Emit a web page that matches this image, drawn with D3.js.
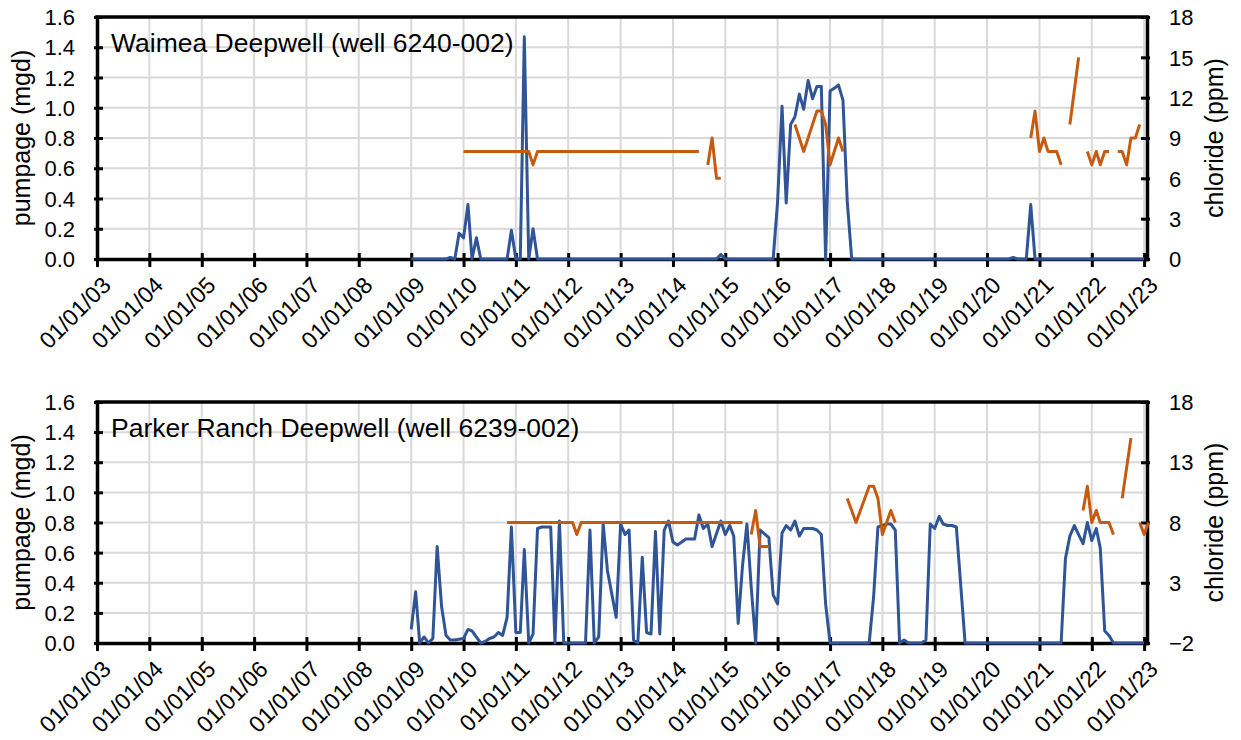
<!DOCTYPE html>
<html>
<head>
<meta charset="utf-8">
<script src="https://cdn.jsdelivr.net/npm/d3@7"></script>
<style>
  body { margin: 0; background: #fff; }
  svg { display: block; font-family: "Liberation Sans", Arial, sans-serif; }
</style>
</head>
<body>
<svg id="chart" width="1241" height="740"></svg>
<script>
/** tick labels */
const xTickLabels = [
  "01/01/03", "01/01/04", "01/01/05", "01/01/06", "01/01/07", "01/01/08", "01/01/09",
  "01/01/10", "01/01/11", "01/01/12", "01/01/13", "01/01/14", "01/01/15", "01/01/16",
  "01/01/17", "01/01/18", "01/01/19", "01/01/20", "01/01/21", "01/01/22", "01/01/23",
];
const pumpTicks = [0, 0.2, 0.4, 0.6, 0.8, 1.0, 1.2, 1.4, 1.6];
const waimeaClTicks = [0, 3, 6, 9, 12, 15, 18];
const parkerClTicks = [-2, 3, 8, 13, 18];

/** Waimea Deepwell, monthly pumpage (mgd) */
const waimeaPumpage = [
  ["2009-01", 0], ["2009-09", 0], ["2009-10", 0.01], ["2009-11", 0], ["2009-12", 0.17],
  ["2010-01", 0.14], ["2010-02", 0.36], ["2010-03", 0], ["2010-04", 0.14], ["2010-05", 0],
  ["2010-11", 0], ["2010-12", 0.19], ["2011-01", 0], ["2011-02", 0], ["2011-03", 1.47],
  ["2011-04", 0], ["2011-05", 0.2], ["2011-06", 0], ["2014-11", 0], ["2014-12", 0.03],
  ["2015-01", 0], ["2015-12", 0], ["2016-01", 0.38], ["2016-02", 1.01], ["2016-03", 0.37],
  ["2016-04", 0.89], ["2016-05", 0.94], ["2016-06", 1.09], ["2016-07", 0.99], ["2016-08", 1.18],
  ["2016-09", 1.06], ["2016-10", 1.14], ["2016-11", 1.14], ["2016-12", 0], ["2017-01", 1.11],
  ["2017-02", 1.13], ["2017-03", 1.15], ["2017-04", 1.05], ["2017-05", 0.38], ["2017-06", 0],
  ["2020-06", 0], ["2020-07", 0.01], ["2020-08", 0], ["2020-10", 0], ["2020-11", 0.36],
  ["2020-12", 0], ["2023-01", 0],
];

/** Waimea Deepwell, chloride (ppm), null = no sample */
const waimeaChloride = [
  ["2010-01", 8], ["2011-04", 8], ["2011-05", 7], ["2011-06", 8], ["2014-07", 8],
  ["2014-08", null],
  ["2014-09", 7], ["2014-10", 9], ["2014-11", 6], ["2014-12", 6],
  ["2015-01", null],
  ["2016-05", 10], ["2016-07", 8], ["2016-10", 11], ["2016-11", 11], ["2016-12", 10],
  ["2017-01", 7], ["2017-03", 9], ["2017-04", 8],
  ["2017-05", null],
  ["2020-11", 9], ["2020-12", 11], ["2021-01", 8], ["2021-02", 9], ["2021-03", 8],
  ["2021-05", 8], ["2021-06", 7],
  ["2021-07", null],
  ["2021-08", 10], ["2021-10", 15],
  ["2021-11", null],
  ["2021-12", 8], ["2022-01", 7], ["2022-02", 8], ["2022-03", 7], ["2022-04", 8], ["2022-05", 8],
  ["2022-06", null],
  ["2022-07", 8], ["2022-08", 8], ["2022-09", 7], ["2022-10", 9], ["2022-11", 9], ["2022-12", 10],
];

/** Parker Ranch Deepwell, monthly pumpage (mgd) */
const parkerPumpage = [
  ["2009-01", 0.09], ["2009-02", 0.34], ["2009-03", 0], ["2009-04", 0.04], ["2009-05", 0],
  ["2009-06", 0.03], ["2009-07", 0.64], ["2009-08", 0.24], ["2009-09", 0.05], ["2009-10", 0.02],
  ["2009-11", 0.02], ["2010-01", 0.03], ["2010-02", 0.09], ["2010-03", 0.08], ["2010-05", 0],
  ["2010-06", 0.01], ["2010-07", 0.03], ["2010-08", 0.04], ["2010-09", 0.07], ["2010-10", 0.05],
  ["2010-11", 0.17], ["2010-12", 0.77], ["2011-01", 0.07], ["2011-02", 0.07], ["2011-03", 0.62],
  ["2011-04", 0], ["2011-05", 0.06], ["2011-06", 0.76], ["2011-07", 0.77], ["2011-08", 0.77],
  ["2011-09", 0.77], ["2011-10", 0], ["2011-11", 0.81], ["2011-12", 0], ["2012-05", 0],
  ["2012-06", 0.75], ["2012-07", 0], ["2012-08", 0.04], ["2012-09", 0.79], ["2012-10", 0.48],
  ["2012-12", 0.17], ["2013-01", 0.79], ["2013-02", 0.72], ["2013-03", 0.75], ["2013-04", 0.02],
  ["2013-05", 0], ["2013-06", 0.57], ["2013-07", 0.07], ["2013-08", 0.06], ["2013-09", 0.74],
  ["2013-10", 0.06], ["2013-11", 0.75], ["2013-12", 0.81], ["2014-01", 0.67], ["2014-02", 0.65],
  ["2014-04", 0.69], ["2014-06", 0.69], ["2014-07", 0.85], ["2014-08", 0.76], ["2014-09", 0.79],
  ["2014-10", 0.64], ["2014-12", 0.81], ["2015-01", 0.72], ["2015-02", 0.78], ["2015-03", 0.71],
  ["2015-04", 0.13], ["2015-05", 0.51], ["2015-06", 0.79], ["2015-07", 0.37], ["2015-08", 0],
  ["2015-09", 0.75], ["2015-11", 0.7], ["2015-12", 0.32], ["2016-01", 0.26], ["2016-02", 0.73],
  ["2016-03", 0.78], ["2016-04", 0.75], ["2016-05", 0.81], ["2016-06", 0.71], ["2016-07", 0.76],
  ["2016-09", 0.76], ["2016-10", 0.75], ["2016-11", 0.72], ["2016-12", 0.26], ["2017-01", 0],
  ["2017-10", 0], ["2017-11", 0.31], ["2017-12", 0.77], ["2018-01", 0.78], ["2018-02", 0.79],
  ["2018-03", 0.79], ["2018-04", 0.75], ["2018-05", 0], ["2018-06", 0.02], ["2018-07", 0],
  ["2018-10", 0], ["2018-11", 0.02], ["2018-12", 0.79], ["2019-01", 0.76], ["2019-02", 0.84],
  ["2019-03", 0.79], ["2019-04", 0.78], ["2019-05", 0.78], ["2019-06", 0.77], ["2019-08", 0],
  ["2021-06", 0], ["2021-07", 0.56], ["2021-08", 0.71], ["2021-09", 0.78], ["2021-10", 0.72],
  ["2021-11", 0.66], ["2021-12", 0.8], ["2022-01", 0.68], ["2022-02", 0.76], ["2022-03", 0.63],
  ["2022-04", 0.08], ["2022-05", 0.05], ["2022-06", 0], ["2023-01", 0],
];

/** Parker Ranch Deepwell, chloride (ppm), null = no sample */
const parkerChloride = [
  ["2010-11", 8], ["2012-02", 8], ["2012-03", 7], ["2012-04", 8], ["2015-05", 8],
  ["2015-06", null],
  ["2015-07", 7], ["2015-08", 9], ["2015-09", 6], ["2015-11", 6],
  ["2015-12", null],
  ["2017-05", 10], ["2017-07", 8], ["2017-10", 11], ["2017-11", 11], ["2017-12", 10],
  ["2018-01", 7], ["2018-03", 9], ["2018-04", 8],
  ["2018-05", null],
  ["2021-11", 9], ["2021-12", 11], ["2022-01", 8], ["2022-02", 9], ["2022-03", 8],
  ["2022-05", 8], ["2022-06", 7],
  ["2022-07", null],
  ["2022-08", 10], ["2022-10", 15],
  ["2022-11", null],
  ["2022-12", 8], ["2023-01", 7], ["2023-02", 8],
];

const blue = "#2f5597";
const orange = "#c55a11";
const gridColor = "#d9d9d9";

const parseMonth = d3.utcParse("%Y-%m");
const parseTick = d3.utcParse("%m/%d/%y");
const xTicks = xTickLabels.map(parseTick);

const svg = d3.select("#chart");
const left = 97;
const right = 1147;

/** shared time axis */
const xScale = d3
  .scaleUtc()
  .domain([parseTick("01/01/03"), d3.utcDay.offset(parseTick("01/01/23"), 20)])
  .range([left, right]);

const drawPanel = ({ title, top, bottom, pumpage, chloride, clDomain, clTicks }) => {
  const g = svg.append("g");

  const yPump = d3.scaleLinear().domain([0, 1.6]).range([bottom, top]);
  const yCl = d3.scaleLinear().domain(clDomain).range([bottom, top]);

  /** gridlines */
  g.append("g")
    .selectAll("line")
    .data(pumpTicks.slice(1))
    .join("line")
    .attr("x1", left)
    .attr("x2", right)
    .attr("y1", (d) => yPump(d))
    .attr("y2", (d) => yPump(d))
    .attr("stroke", gridColor)
    .attr("stroke-width", 2);
  g.append("g")
    .selectAll("line")
    .data(xTicks.slice(1))
    .join("line")
    .attr("x1", (d) => xScale(d))
    .attr("x2", (d) => xScale(d))
    .attr("y1", top)
    .attr("y2", bottom)
    .attr("stroke", gridColor)
    .attr("stroke-width", 2);

  /** axes */
  const xAxis = d3
    .axisBottom(xScale)
    .tickValues(xTicks)
    .tickFormat((d, i) => xTickLabels[i])
    .tickSizeOuter(0)
    .tickSizeInner(8);
  const xg = g.append("g").attr("transform", `translate(0,${bottom})`).call(xAxis);
  xg.selectAll(".tick line").attr("y1", -6).attr("y2", 8);

  const yAxis = d3
    .axisLeft(yPump)
    .tickValues(pumpTicks)
    .tickFormat(d3.format(".1f"))
    .tickSizeOuter(0)
    .tickSizeInner(3);
  const yg = g.append("g").attr("transform", `translate(${left},0)`).call(yAxis);
  yg.selectAll(".tick line").attr("x1", -3).attr("x2", 6);
  yg.selectAll(".tick text").attr("x", -22).attr("dy", "0.35em");

  const clAxis = d3
    .axisRight(yCl)
    .tickValues(clTicks)
    .tickSizeOuter(0)
    .tickSizeInner(3);
  const cg = g.append("g").attr("transform", `translate(${right},0)`).call(clAxis);
  cg.selectAll(".tick line").attr("x1", -6).attr("x2", 3);
  cg.selectAll(".tick text").attr("x", 22).attr("dy", "0.35em");

  for (const a of [xg, yg, cg]) {
    a.attr("font-family", null).attr("font-size", 22).attr("color", "#000");
    a.selectAll("line").attr("stroke-width", 3);
    a.select(".domain").attr("stroke-width", 3.5).attr("stroke-linecap", "square");
  }

  /** rotated date labels */
  xg.attr("font-size", 23);
  xg.selectAll(".tick text")
    .attr("x", 0)
    .attr("y", 0)
    .attr("dy", "0.35em")
    .attr("text-anchor", "end")
    .attr("transform", "translate(9,22) rotate(-45)");

  /** top border */
  g.append("line")
    .attr("x1", left)
    .attr("x2", right)
    .attr("y1", top)
    .attr("y2", top)
    .attr("stroke", "#000")
    .attr("stroke-width", 3.5)
    .attr("stroke-linecap", "square");

  /** pumpage line, drawn over the axis */
  const pumpLine = d3
    .line()
    .x((d) => xScale(parseMonth(d[0])))
    .y((d) => yPump(d[1]));
  g.append("path")
    .attr("d", pumpLine(pumpage))
    .attr("fill", "none")
    .attr("stroke", blue)
    .attr("stroke-width", 3)
    .attr("stroke-linejoin", "round");

  /** chloride line, broken where no sample */
  const clLine = d3
    .line()
    .defined((d) => d[1] !== null)
    .x((d) => xScale(parseMonth(d[0])))
    .y((d) => yCl(d[1]));
  g.append("path")
    .attr("d", clLine(chloride))
    .attr("fill", "none")
    .attr("stroke", orange)
    .attr("stroke-width", 3)
    .attr("stroke-linejoin", "round");

  /** axis titles */
  const mid = (top + bottom) / 2;
  g.append("text")
    .text("pumpage (mgd)")
    .attr("transform", `translate(30,${mid}) rotate(-90)`)
    .attr("text-anchor", "middle")
    .attr("font-size", 25);
  g.append("text")
    .text("chloride (ppm)")
    .attr("transform", `translate(1223,${mid}) rotate(-90)`)
    .attr("text-anchor", "middle")
    .attr("font-size", 25);

  /** panel title */
  g.append("text")
    .text(title)
    .attr("x", 111)
    .attr("y", top + 35)
    .attr("font-size", 26.5);
};

drawPanel({
  title: "Waimea Deepwell (well 6240-002)",
  top: 17,
  bottom: 259,
  pumpage: waimeaPumpage,
  chloride: waimeaChloride,
  clDomain: [0, 18],
  clTicks: waimeaClTicks,
});

drawPanel({
  title: "Parker Ranch Deepwell (well 6239-002)",
  top: 402,
  bottom: 643,
  pumpage: parkerPumpage,
  chloride: parkerChloride,
  clDomain: [-2, 18],
  clTicks: parkerClTicks,
});
</script>
</body>
</html>
